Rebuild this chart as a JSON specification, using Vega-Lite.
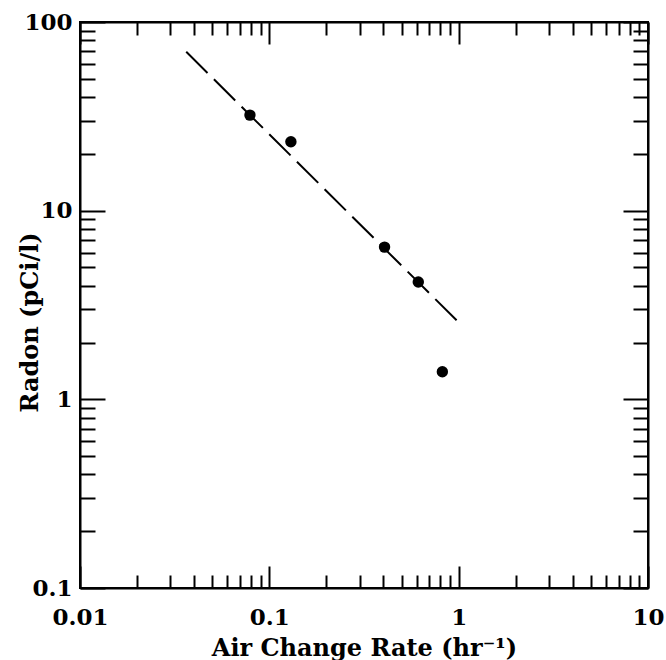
{
  "$schema": "https://vega.github.io/schema/vega-lite/v6.json",
  "width": 568,
  "height": 566,
  "autosize": "none",
  "padding": {"left": 80, "top": 22, "right": 18, "bottom": 72},
  "background": "white",
  "config": {
    "view": {"stroke": "black", "strokeWidth": 2},
    "axis": {
      "domainColor": "black",
      "domainWidth": 2,
      "tickColor": "black",
      "tickWidth": 2,
      "labelFont": "DejaVu Serif",
      "labelFontWeight": "bold",
      "labelFontSize": 23,
      "labelColor": "black",
      "titleFont": "DejaVu Serif",
      "titleFontWeight": "bold",
      "titleFontSize": 24,
      "titleColor": "black",
      "grid": false,
      "labelOverlap": false,
      "labelFlush": false
    }
  },
  "datasets": {
    "points": [
      {"rate": 0.079, "radon": 32.1},
      {"rate": 0.13, "radon": 23.2},
      {"rate": 0.406, "radon": 6.41},
      {"rate": 0.612, "radon": 4.19},
      {"rate": 0.82, "radon": 1.4}
    ],
    "fit": [
      {"rate": 0.0364, "radon": 69.5},
      {"rate": 1.0, "radon": 2.56}
    ]
  },
  "layer": [
    {
      "data": {"name": "points"},
      "mark": {"type": "point", "filled": true, "color": "black", "opacity": 1, "size": 130},
      "encoding": {
        "x": {
          "field": "rate", "type": "quantitative",
          "scale": {"type": "log", "domain": [0.01, 10], "nice": false},
          "axis": {
            "orient": "bottom",
            "title": "Air Change Rate (hr⁻¹)",
            "values": [0.01,0.02,0.03,0.04,0.05,0.06,0.07,0.08,0.09,0.1,0.2,0.3,0.4,0.5,0.6,0.7,0.8,0.9,1,2,3,4,5,6,7,8,9,10],
            "labelExpr": "abs(log(datum.value)/LN10 - round(log(datum.value)/LN10)) < 0.000001 ? format(datum.value, '~g') : ''",
            "tickSize": {"condition": {"test": "abs(log(datum.value)/LN10 - round(log(datum.value)/LN10)) < 0.000001", "value": -22}, "value": -13},
            "labelPadding": 40,
            "titleBaseline": "alphabetic",
            "titleY": 67
          }
        },
        "y": {
          "field": "radon", "type": "quantitative",
          "scale": {"type": "log", "domain": [0.1, 100], "nice": false},
          "axis": {
            "orient": "left",
            "title": "Radon (pCi/l)",
            "values": [0.1,0.2,0.3,0.4,0.5,0.6,0.7,0.8,0.9,1,2,3,4,5,6,7,8,9,10,20,30,40,50,60,70,80,90,100],
            "labelExpr": "abs(log(datum.value)/LN10 - round(log(datum.value)/LN10)) < 0.000001 ? format(datum.value, '~g') : ''",
            "tickSize": {"condition": {"test": "abs(log(datum.value)/LN10 - round(log(datum.value)/LN10)) < 0.000001", "value": -25}, "value": -15},
            "labelPadding": 33,
            "titleBaseline": "alphabetic",
            "titleX": -43,
            "titleY": 300
          }
        }
      }
    },
    {
      "data": {"name": "fit"},
      "mark": {"type": "line", "color": "black", "strokeWidth": 2, "strokeDash": [30, 9]},
      "encoding": {
        "x": {
          "field": "rate", "type": "quantitative",
          "scale": {"type": "log", "domain": [0.01, 10], "nice": false},
          "axis": {
            "orient": "top",
            "title": null,
            "values": [0.01,0.02,0.03,0.04,0.05,0.06,0.07,0.08,0.09,0.1,0.2,0.3,0.4,0.5,0.6,0.7,0.8,0.9,1,2,3,4,5,6,7,8,9,10],
            "labels": false,
            "tickSize": {"condition": {"test": "abs(log(datum.value)/LN10 - round(log(datum.value)/LN10)) < 0.000001", "value": -22}, "value": -13}
          }
        },
        "y": {
          "field": "radon", "type": "quantitative",
          "scale": {"type": "log", "domain": [0.1, 100], "nice": false},
          "axis": {
            "orient": "right",
            "title": null,
            "values": [0.1,0.2,0.3,0.4,0.5,0.6,0.7,0.8,0.9,1,2,3,4,5,6,7,8,9,10,20,30,40,50,60,70,80,90,100],
            "labels": false,
            "tickSize": {"condition": {"test": "abs(log(datum.value)/LN10 - round(log(datum.value)/LN10)) < 0.000001", "value": -25}, "value": -15}
          }
        }
      }
    }
  ],
  "resolve": {"axis": {"x": "independent", "y": "independent"}}
}
